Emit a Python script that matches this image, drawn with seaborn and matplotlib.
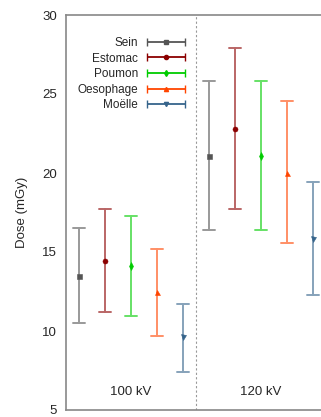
import pandas as pd
import numpy as np
import matplotlib
matplotlib.use("Agg")
import matplotlib.pyplot as plt
import seaborn as sns
from matplotlib.container import ErrorbarContainer
from matplotlib.legend_handler import HandlerErrorbar

# Dose per organ, mean with lower / upper bounds
organs = ["Sein", "Estomac", "Poumon", "Oesophage", "Moëlle"]
groups = ["100 kV", "120 kV"]

mid_100 = [13.5, 14.45, 14.1, 12.45, 9.6]
low_100 = [10.5, 11.2, 10.95, 9.7, 7.4]
high_100 = [16.5, 17.7, 17.3, 15.2, 11.7]

mid_120 = [21.1, 22.8, 21.1, 20.0, 15.85]
low_120 = [16.4, 17.75, 16.4, 15.55, 12.3]
high_120 = [25.85, 27.9, 25.85, 24.55, 19.4]

colors = ["#555555", "#8b0000", "#00cc00", "#ff4500", "#36648b"]
markers = ["s", "o", "d", "^", "v"]

# long table: low / mid / high rows -> median + full percentile interval
rows = []
for g, mids, lows, highs in [(groups[0], mid_100, low_100, high_100),
                             (groups[1], mid_120, low_120, high_120)]:
    for organ, m, lo, hi in zip(organs, mids, lows, highs):
        for v in (lo, m, hi):
            rows.append({"group": g, "organ": organ, "dose": v})
data = pd.DataFrame(rows)

sns.set_theme(style="white")
plt.rcParams["font.family"] = ["Liberation Sans", "DejaVu Sans"]
plt.rcParams["font.size"] = 9.5

fig = plt.figure(figsize=(3.21, 4.17), dpi=100)
ax = fig.add_axes([66 / 321, 7 / 417, 255 / 321, 395 / 417])

sns.pointplot(data=data, x="group", y="dose", hue="organ", order=groups,
              hue_order=organs, palette=colors, markers=markers,
              estimator="median", errorbar=("pi", 100), dodge=0.8,
              linestyle="none", capsize=0.085, markersize=3.6,
              markeredgewidth=0.4,
              err_kws={"linewidth": 1.4, "alpha": 0.6}, legend=False, ax=ax)

ax.set_xlim(-0.5, -0.5 + 255 / 130)
ax.set_ylim(5, 30)
ax.set_yticks([5, 10, 15, 20, 25, 30])
ax.set_xticks([])
ax.set_xlabel("")
ax.set_ylabel("Dose (mGy)", fontsize=9.5, labelpad=10)

ax.axvline(0.5, color="#999999", linestyle=(0, (2, 2)), linewidth=0.8)
for i, g in enumerate(groups):
    ax.text(i, 6.15, g, ha="center", va="center", fontsize=9.5)

for side in ["left", "top", "bottom"]:
    ax.spines[side].set_color("#888888")
    ax.spines[side].set_linewidth(1.2)
ax.spines["right"].set_visible(False)
ax.tick_params(axis="y", direction="in", length=6, width=1.2, color="#bbbbbb",
               labelsize=9.5, pad=6.5)

# legend proxies drawn as horizontal error bars
handles = []
for organ, c, mk in zip(organs, colors, markers):
    h = ax.errorbar([np.nan], [np.nan], xerr=[1], fmt=mk, color=c, ecolor=c,
                    markersize=3, elinewidth=1.3, capsize=3, label=organ)
    handles.append(h)
ax.legend(handles=handles, labels=organs, loc="upper left",
          bbox_to_anchor=(0.012, 0.965), frameon=False, markerfirst=False,
          handlelength=3.3, handletextpad=0.7, labelspacing=0.3,
          fontsize=8.5, borderaxespad=0.3,
          handler_map={ErrorbarContainer: HandlerErrorbar(xerr_size=1.6)})

fig.savefig("out.png", dpi=100)
